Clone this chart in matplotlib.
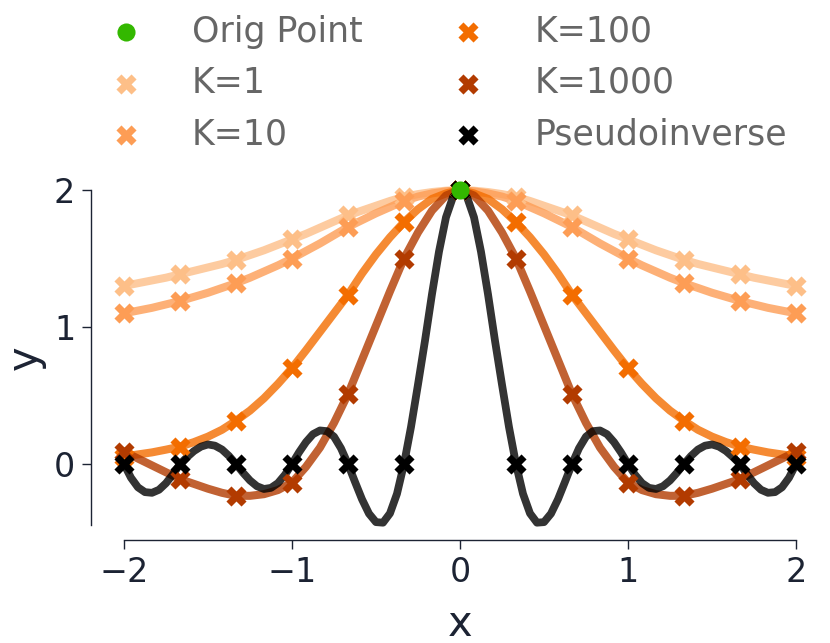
import numpy as np
import matplotlib
matplotlib.use("Agg")
import matplotlib.pyplot as plt

# sample points (markers) and fine grids for the curves
x_pts = np.linspace(-2, 2, 13)
x_fine = np.linspace(-2, 2, 49)
x_pinv = np.linspace(-2, 2, 97)

# curve values (step 1/12)
k1 = [1.30, 1.32, 1.34, 1.36, 1.385, 1.41, 1.435, 1.46, 1.49, 1.525, 1.56, 1.60,
      1.64, 1.68, 1.725, 1.77, 1.815, 1.85, 1.885, 1.92, 1.95, 1.97, 1.985, 1.995,
      2.00,
      1.995, 1.985, 1.97, 1.95, 1.92, 1.885, 1.85, 1.815, 1.77, 1.725, 1.68, 1.64,
      1.60, 1.56, 1.525, 1.49, 1.46, 1.435, 1.41, 1.385, 1.36, 1.34, 1.32, 1.30]
k10 = [1.10, 1.12, 1.14, 1.165, 1.19, 1.22, 1.25, 1.285, 1.32, 1.36, 1.405, 1.45,
       1.50, 1.555, 1.61, 1.67, 1.73, 1.78, 1.83, 1.875, 1.92, 1.952, 1.975, 1.99,
       2.00,
       1.99, 1.975, 1.952, 1.92, 1.875, 1.83, 1.78, 1.73, 1.67, 1.61, 1.555, 1.50,
       1.45, 1.405, 1.36, 1.32, 1.285, 1.25, 1.22, 1.19, 1.165, 1.14, 1.12, 1.10]
k100 = [0.055, 0.07, 0.085, 0.105, 0.127, 0.16, 0.20, 0.25, 0.316, 0.39, 0.48, 0.585,
        0.70, 0.83, 0.965, 1.10, 1.235, 1.39, 1.53, 1.655, 1.765, 1.86, 1.935, 1.975,
        2.00,
        1.975, 1.935, 1.86, 1.765, 1.655, 1.53, 1.39, 1.235, 1.10, 0.965, 0.83, 0.70,
        0.585, 0.48, 0.39, 0.316, 0.25, 0.20, 0.16, 0.127, 0.105, 0.085, 0.07, 0.055]
k1000 = [0.09, 0.04, -0.01, -0.06, -0.11, -0.145, -0.18, -0.21, -0.232, -0.232, -0.22, -0.19,
         -0.135, -0.02, 0.12, 0.30, 0.51, 0.76, 1.01, 1.26, 1.50, 1.69, 1.85, 1.96,
         2.00,
         1.96, 1.85, 1.69, 1.50, 1.26, 1.01, 0.76, 0.51, 0.30, 0.12, -0.02, -0.135,
         -0.19, -0.22, -0.232, -0.232, -0.21, -0.18, -0.145, -0.11, -0.06, -0.01, 0.04, 0.09]

# pseudoinverse curve (step 1/24)
pinv_half = [2.000, 1.949, 1.801, 1.550, 1.240, 0.900, 0.580, 0.270, 0.000,
             -0.217, -0.360, -0.428, -0.424, -0.362, -0.257, -0.130, 0.000,
             0.115, 0.200, 0.240, 0.245, 0.218, 0.160, 0.085, 0.000,
             -0.078, -0.139, -0.174, -0.182, -0.162, -0.120, -0.063, 0.000,
             0.059, 0.106, 0.134, 0.143, 0.127, 0.095, 0.050, 0.000,
             -0.075, -0.140, -0.188, -0.210, -0.205, -0.170, -0.100, 0.000]
pinv = pinv_half[:0:-1] + pinv_half

# marker values at the 13 sample points
k1_pts = [1.30, 1.385, 1.49, 1.64, 1.815, 1.95, 2.0, 1.95, 1.815, 1.64, 1.49, 1.385, 1.30]
k10_pts = [1.10, 1.19, 1.32, 1.50, 1.73, 1.92, 2.0, 1.92, 1.73, 1.50, 1.32, 1.19, 1.10]
k100_pts = [0.055, 0.127, 0.316, 0.70, 1.235, 1.765, 2.0, 1.765, 1.235, 0.70, 0.316, 0.127, 0.055]
k1000_pts = [0.09, -0.11, -0.232, -0.135, 0.51, 1.50, 2.0, 1.50, 0.51, -0.135, -0.232, -0.11, 0.09]
pinv_pts = [0, 0, 0, 0, 0, 0, 2.0, 0, 0, 0, 0, 0, 0]
orig_x, orig_y = [0.0], [2.0]

series = [
    ("K=1", k1, k1_pts, "#fdbf88"),
    ("K=10", k10, k10_pts, "#fd9d55"),
    ("K=100", k100, k100_pts, "#f36d00"),
    ("K=1000", k1000, k1000_pts, "#b23b00"),
]

fig = plt.figure(figsize=(8.3, 6.43), dpi=100)
ax = fig.add_axes([0.1277, 0.1835, 0.853, 0.521])

handles = {}
for name, curve, pts, col in series:
    ax.plot(x_fine, curve, color=col, lw=5.8, alpha=0.8, clip_on=False, zorder=2)
    handles[name] = ax.scatter(x_pts, pts, marker="X", s=210, color=col, clip_on=False,
                               zorder=3, linewidths=0)

ax.plot(x_pinv, pinv, color="black", lw=5.6, alpha=0.8, clip_on=False, zorder=2)
handles["Pseudoinverse"] = ax.scatter(x_pts, pinv_pts, marker="X", s=210, color="black",
                                      clip_on=False, zorder=3, linewidths=0)
handles["Orig Point"] = ax.scatter(orig_x, orig_y, marker="o", s=170, color="#33b800",
                                   clip_on=False, zorder=4, linewidths=0)

ax.set_xlim(-2.107, 2.107)
ax.set_ylim(-0.445, 2.0)
ax.set_xticks([-2, -1, 0, 1, 2])
ax.set_yticks([0, 1, 2])

dark = "#1c2333"
for s in ["top", "right"]:
    ax.spines[s].set_visible(False)
ax.spines["left"].set_position(("outward", 10.8))
ax.spines["bottom"].set_position(("outward", 10.8))
ax.spines["bottom"].set_bounds(-2, 2)
for s in ["left", "bottom"]:
    ax.spines[s].set_color(dark)
    ax.spines[s].set_linewidth(1.0)
ax.tick_params(colors=dark, labelsize=24, length=6.3, width=1.0, pad=5)
ax.set_xlabel("x", fontsize=30, color=dark, labelpad=10)
ax.set_ylabel("y", fontsize=30, color=dark, labelpad=6)

order = ["Orig Point", "K=1", "K=10", "K=100", "K=1000", "Pseudoinverse"]
fig.legend([handles[n] for n in order], order, ncol=2, frameon=False, fontsize=25,
           labelcolor="#666666", markerscale=1.0, loc="upper center",
           bbox_to_anchor=(0.529, 1.026), handletextpad=0.9, columnspacing=2.05,
           labelspacing=0.5)

fig.savefig("out.png", dpi=100)
